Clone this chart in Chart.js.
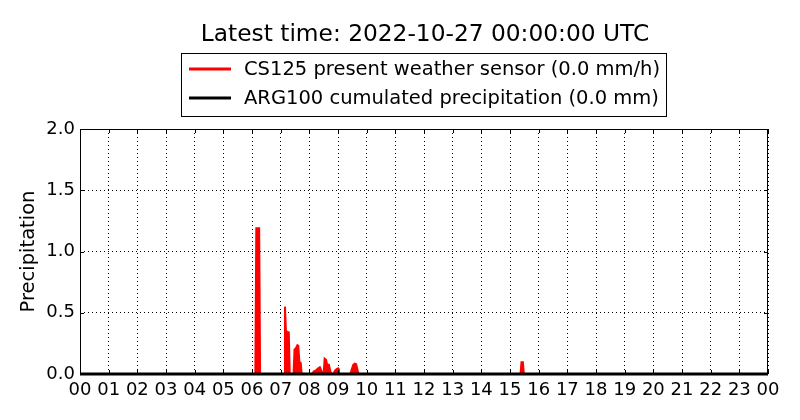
<!DOCTYPE html>
<html>
<head>
<meta charset="utf-8">
<script src="https://cdn.jsdelivr.net/npm/chart.js@4"></script>
<style>
  html, body { margin: 0; padding: 0; background: #fff; }
  #wrap { width: 800px; height: 420px; }
</style>
</head>
<body>
<div id="wrap"><canvas id="chart" width="800" height="420"></canvas></div>
<script>
const titleText = "Latest time: 2022-10-27 00:00:00 UTC";
const yLabel = "Precipitation";

// minutes since 00:00 UTC
const csMinutes = [0, 367, 369, 375, 377,
  427, 429, 431, 437, 439,
  447, 449, 452, 455, 457, 459, 462, 464,
  487, 489, 494, 498, 502, 505, 508,
  510, 512, 515, 517, 521, 524, 527,
  531, 533, 537, 540, 542,
  566, 569, 572, 575, 578, 581, 583,
  922, 924, 927, 929, 1440];
const csValues = [0, 0, 1.19, 1.19, 0,
  0, 0.55, 0.35, 0.34, 0,
  0, 0.2, 0.21, 0.235, 0.23, 0.1, 0.09, 0,
  0, 0.02, 0.03, 0.045, 0.055, 0.03, 0,
  0, 0.125, 0.115, 0.08, 0.075, 0.02, 0,
  0, 0.025, 0.04, 0.045, 0,
  0, 0.04, 0.075, 0.085, 0.08, 0.03, 0,
  0, 0.095, 0.095, 0, 0];

const argMinutes = [0, 1440];
const argValues = [0, 0];

const csLabel = "CS125 present weather sensor (0.0 mm/h)";
const argLabel = "ARG100 cumulated precipitation (0.0 mm)";

const FONT = '"DejaVu Sans", sans-serif';

function pts(xs, ys) {
  return xs.map((x, i) => ({ x: x, y: ys[i] }));
}

const decor = {
  id: "decor",
  afterDraw(chart) {
    const ctx = chart.ctx;
    const a = chart.chartArea;
    ctx.save();
    // frame
    ctx.strokeStyle = "#000";
    ctx.lineWidth = 1;
    ctx.strokeRect(a.left + 0.5, a.top + 0.5, a.right - a.left - 1, a.bottom - a.top);

    // inward ticks
    const xs = chart.scales.x, ys = chart.scales.y;
    ctx.beginPath();
    xs.ticks.forEach(t => {
      const px = Math.round(xs.getPixelForValue(t.value)) + 0.5;
      ctx.moveTo(px, a.bottom); ctx.lineTo(px, a.bottom - 4);
      ctx.moveTo(px, a.top); ctx.lineTo(px, a.top + 4);
    });
    ys.ticks.forEach(t => {
      const py = Math.round(ys.getPixelForValue(t.value)) + 0.5;
      ctx.moveTo(a.left, py); ctx.lineTo(a.left + 4, py);
      ctx.moveTo(a.right, py); ctx.lineTo(a.right - 4, py);
    });
    ctx.stroke();

    // title
    ctx.fillStyle = "#000";
    ctx.font = "23.3px " + FONT;
    ctx.textAlign = "center";
    ctx.textBaseline = "middle";
    ctx.fillText(titleText, 425, 35);

    // legend
    ctx.fillStyle = "#fff";
    ctx.fillRect(181.5, 53.5, 485, 63);
    ctx.strokeRect(181.5, 53.5, 485, 63);
    ctx.font = "19.5px " + FONT;
    ctx.textAlign = "left";
    const rows = chart.data.datasets.map(d => [d.label, d.borderColor]);
    rows.forEach((r, i) => {
      const y = 69 + i * 29;
      ctx.strokeStyle = r[1];
      ctx.lineWidth = 3;
      ctx.beginPath();
      ctx.moveTo(189, y); ctx.lineTo(231, y);
      ctx.stroke();
      ctx.fillStyle = "#000";
      ctx.fillText(r[0], 244, y + 1);
    });

    // y axis title
    ctx.save();
    ctx.translate(29, (a.top + a.bottom) / 2);
    ctx.rotate(-Math.PI / 2);
    ctx.textAlign = "center";
    ctx.font = "19.5px " + FONT;
    ctx.fillText(yLabel, 0, 0);
    ctx.restore();
    ctx.restore();
  }
};

new Chart(document.getElementById("chart"), {
  type: "line",
  data: {
    datasets: [
      {
        label: csLabel,
        data: pts(csMinutes, csValues),
        borderColor: "#ff0000",
        backgroundColor: "#ff0000",
        borderWidth: 2,
        fill: "origin",
        pointRadius: 0,
        tension: 0,
        order: 2
      },
      {
        label: argLabel,
        data: pts(argMinutes, argValues),
        borderColor: "#000000",
        borderWidth: 3,
        fill: false,
        pointRadius: 0,
        clip: false,
        order: 1
      }
    ]
  },
  options: {
    responsive: false,
    animation: false,
    layout: { padding: { top: 129, right: 32, left: 0, bottom: 0 } },
    plugins: {
      legend: { display: false },
      title: { display: false },
      tooltip: { enabled: false }
    },
    scales: {
      x: {
        type: "linear",
        min: 0,
        max: 1440,
        afterFit(s) { s.height = 46; },
        afterBuildTicks(s) {
          s.ticks = [];
          for (let m = 0; m <= 1440; m += 60) s.ticks.push({ value: m });
        },
        ticks: {
          color: "#000",
          font: { family: FONT, size: 18 },
          padding: 6,
          maxRotation: 0,
          autoSkip: false,
          callback: v => String((v / 60) % 24).padStart(2, "0")
        },
        grid: { color: "#000", lineWidth: 1, drawTicks: false },
        border: { display: false, dash: [1, 3] }
      },
      y: {
        min: 0,
        max: 2,
        afterFit(s) { s.width = 80; },
        ticks: {
          stepSize: 0.5,
          color: "#000",
          font: { family: FONT, size: 18 },
          padding: 5,
          callback: v => v.toFixed(1)
        },
        grid: { color: "#000", lineWidth: 1, drawTicks: false },
        border: { display: false, dash: [1, 3] }
      }
    }
  },
  plugins: [decor]
});
</script>
</body>
</html>
